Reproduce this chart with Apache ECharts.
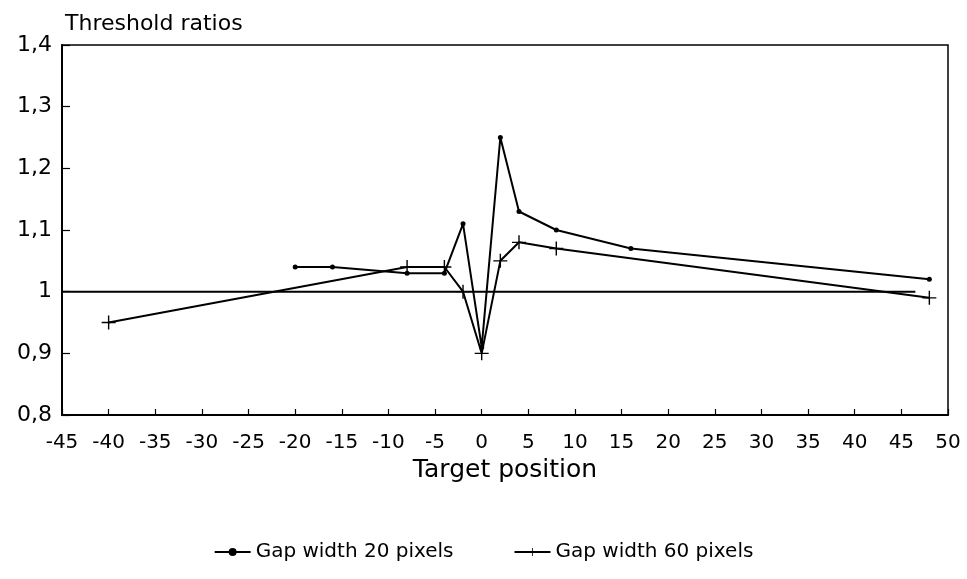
<!DOCTYPE html>
<html>
<head>
<meta charset="UTF-8">
<title>Threshold ratios</title>
<script src="https://cdn.jsdelivr.net/npm/echarts@6/dist/echarts.min.js"></script>
<style>
  body { margin: 0; background: #fff; }
  #main { width: 967px; height: 579px; }
</style>
</head>
<body>
<div id="main"></div>
<script>
// data
const gap20X = [-20, -16, -8, -4, -2, 0, 2, 4, 8, 16, 48];
const gap20Y = [1.04, 1.04, 1.03, 1.03, 1.11, 0.91, 1.25, 1.13, 1.10, 1.07, 1.02];
const gap60X = [-40, -8, -4, -2, 0, 2, 4, 8, 48];
const gap60Y = [0.95, 1.04, 1.04, 1.00, 0.90, 1.05, 1.08, 1.07, 0.99];
const refX = [-45, 46.5];
const refY = [1, 1];

const seriesNames = ['Gap width 20 pixels', 'Gap width 60 pixels'];

function pairs(xs, ys) {
  return xs.map((x, i) => [x, ys[i]]);
}

const plusPath = 'path://M-0.1,-1L0.1,-1L0.1,-0.1L1,-0.1L1,0.1L0.1,0.1L0.1,1L-0.1,1L-0.1,0.1L-1,0.1L-1,-0.1L-0.1,-0.1Z';
const fontFamily = '"DejaVu Sans", "Liberation Sans", sans-serif';

let chart = echarts.init(document.getElementById('main'), null, { renderer: 'canvas' });

let option = {
  animation: false,
  backgroundColor: '#fff',
  textStyle: { fontFamily: fontFamily, color: '#000' },
  title: {
    text: 'Threshold ratios',
    left: 60,
    top: 8,
    textStyle: { fontSize: 22, fontWeight: 'normal', color: '#000', fontFamily: fontFamily }
  },
  grid: {
    left: 62, right: 19, top: 45, bottom: 164,
    show: true, borderColor: '#000', borderWidth: 1.5, backgroundColor: 'transparent'
  },
  legend: {
    bottom: 12,
    left: 'center',
    itemWidth: 36,
    itemHeight: 10,
    itemGap: 60,
    textStyle: { fontSize: 20, color: '#000', fontFamily: fontFamily },
    data: seriesNames
  },
  xAxis: {
    type: 'value',
    min: -45, max: 50, interval: 5,
    name: 'Target position',
    nameLocation: 'middle',
    nameGap: 42,
    nameTextStyle: { fontSize: 25, color: '#000' },
    axisLine: { onZero: false, lineStyle: { color: '#000', width: 2 } },
    axisTick: { inside: true, length: 6, lineStyle: { color: '#000', width: 1.2 } },
    axisLabel: { fontSize: 20, color: '#000', margin: 18 },
    splitLine: { show: false }
  },
  yAxis: {
    type: 'value',
    min: 0.8, max: 1.4, interval: 0.1,
    axisLine: { show: true, onZero: false, lineStyle: { color: '#000', width: 2 } },
    axisTick: { show: true, inside: true, length: 8, lineStyle: { color: '#000', width: 1.2 } },
    axisLabel: {
      fontSize: 22, color: '#000', margin: 10,
      formatter: v => {
        let s = (Math.round(v * 10) / 10).toString();
        return s.replace('.', ',');
      }
    },
    splitLine: { show: false }
  },
  series: [
    {
      name: seriesNames[0],
      type: 'line',
      data: pairs(gap20X, gap20Y),
      symbol: 'circle',
      symbolSize: 5,
      lineStyle: { color: '#000', width: 2 },
      itemStyle: { color: '#000' },
      z: 3
    },
    {
      name: seriesNames[1],
      type: 'line',
      data: pairs(gap60X, gap60Y),
      symbol: plusPath,
      symbolSize: 14,
      lineStyle: { color: '#000', width: 2 },
      itemStyle: { color: '#000' },
      z: 3
    },
    {
      name: 'reference',
      type: 'line',
      data: pairs(refX, refY),
      showSymbol: false,
      symbol: 'none',
      lineStyle: { color: '#000', width: 2 },
      silent: true,
      z: 2
    }
  ]
};

chart.setOption(option);
</script>
</body>
</html>
